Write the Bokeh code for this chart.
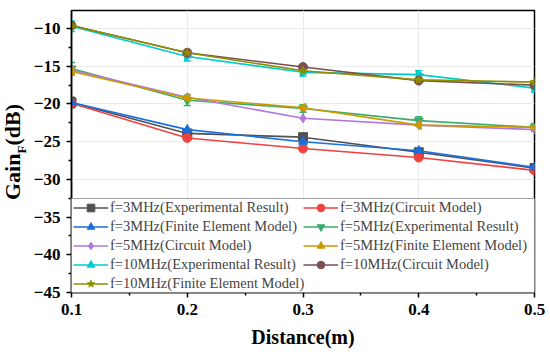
import math
from bokeh.plotting import figure
from bokeh.layouts import row
from bokeh.models import (Range1d, FixedTicker, Legend, LegendItem, Whisker, ColumnDataSource,
                          TeeHead, BoxAnnotation, Div)
from bokeh.embed import file_html
from bokeh.resources import INLINE

distance = [0.1, 0.2, 0.3, 0.4, 0.5]

f3_exp = [-19.8, -23.9, -24.4, -26.4, -28.5]
f3_exp_err = [0.7, 0.4, 0.5, 0.3, 0.5]
f3_cir = [-19.9, -24.5, -25.9, -27.1, -28.8]
f3_fem = [-19.8, -23.4, -25.0, -26.2, -28.4]

f5_exp = [-15.3, -19.5, -20.6, -22.2, -23.1]
f5_exp_err = [0.8, 0.7, 0.5, 0.5, 0.5]
f5_cir = [-15.5, -19.1, -21.9, -22.8, -23.4]
f5_fem = [-15.7, -19.2, -20.5, -22.8, -23.1]

f10_exp = [-9.7, -13.7, -15.8, -16.1, -17.9]
f10_exp_err = [0.7, 0.6, 0.5, 0.5, 0.5]
f10_cir = [-9.6, -13.2, -15.1, -16.9, -17.5]
f10_fem = [-9.6, -13.2, -15.6, -16.8, -17.1]

series = [
    ("f=3MHz(Experimental Result)", f3_exp, f3_exp_err, "#515151", "square", 0),
    ("f=3MHz(Circuit Model)", f3_cir, None, "#F14040", "circle", 0),
    ("f=3MHz(Finite Element Model)", f3_fem, None, "#1A6FDF", "triangle", 0),
    ("f=5MHz(Experimental Result)", f5_exp, f5_exp_err, "#37AD6B", "inverted_triangle", 0),
    ("f=5MHz(Circuit Model)", f5_cir, None, "#B177DE", "diamond", 0),
    ("f=5MHz(Finite Element Model)", f5_fem, None, "#CC9900", "triangle", math.pi / 2),
    ("f=10MHz(Experimental Result)", f10_exp, f10_exp_err, "#00CBCC", "triangle", -math.pi / 2),
    ("f=10MHz(Circuit Model)", f10_cir, None, "#7D4E4E", "circle", 0),
    ("f=10MHz(Finite Element Model)", f10_fem, None, "#8E8E00", "star", 0),
]

SERIF = "'Liberation Serif'"
Y_MIN, Y_MAX = -45, -7.6

p = figure(width=520, height=357, output_backend="svg", toolbar_location=None,
           x_range=Range1d(0.1, 0.5), y_range=Range1d(Y_MIN, Y_MAX),
           min_border_left=41, min_border_right=16, min_border_top=10, min_border_bottom=65,
           margin=(0, 0, 0, 0))

p.outline_line_color = "black"
p.outline_line_width = 1.5
p.background_fill_color = "white"

p.xaxis.ticker = FixedTicker(ticks=[0.1, 0.2, 0.3, 0.4, 0.5],
                             minor_ticks=[0.15, 0.25, 0.35, 0.45])
p.yaxis.ticker = FixedTicker(ticks=[-45, -40, -35, -30, -25, -20, -15, -10],
                             minor_ticks=[-42.5, -37.5, -32.5, -27.5, -22.5, -17.5, -12.5])
p.yaxis.major_label_overrides = {v: "\u2212" + str(-v) for v in [-45, -40, -35, -30, -25, -20, -15, -10]}
p.xaxis.major_label_overrides = {0.1: "0.1", 0.2: "0.2", 0.3: "0.3", 0.4: "0.4", 0.5: "0.5"}

for ax in (p.xaxis, p.yaxis):
    ax.axis_line_width = 1.5
    ax.axis_line_color = "black"
    ax.major_tick_in = 0
    ax.major_tick_out = 5
    ax.minor_tick_in = 0
    ax.minor_tick_out = 3
    ax.major_tick_line_width = 1.5
    ax.minor_tick_line_width = 1.5
    ax.major_label_text_font = SERIF
    ax.major_label_text_font_style = "bold"
    ax.major_label_text_font_size = "17px"
    ax.major_label_text_color = "black"
    ax.axis_label_text_font = SERIF
    ax.axis_label_text_font_style = "bold"
    ax.axis_label_text_font_size = "20px"
    ax.axis_label_text_color = "black"

p.xaxis.major_label_standoff = 6
p.yaxis.major_label_standoff = 6
p.xaxis.axis_label = "Distance(m)"
p.xaxis.axis_label_standoff = 8

p.grid.grid_line_color = "#ebebeb"
p.grid.grid_line_width = 1

items = []
for label, ys, err, color, marker, angle in series:
    src = ColumnDataSource(dict(x=distance, y=ys))
    line = p.line("x", "y", source=src, line_color=color, line_width=1.6)
    sc = p.scatter("x", "y", source=src, marker=marker, size=9, angle=angle,
                   fill_color=color, line_color=color)
    rends = [line, sc]
    if err is not None:
        esrc = ColumnDataSource(dict(x=distance,
                                     lo=[v - e for v, e in zip(ys, err)],
                                     hi=[v + e for v, e in zip(ys, err)]))
        w = Whisker(source=esrc, base="x", lower="lo", upper="hi",
                    line_color=color, line_width=1.5,
                    upper_head=TeeHead(size=7, line_color=color, line_width=1.5),
                    lower_head=TeeHead(size=7, line_color=color, line_width=1.5))
        p.add_layout(w)
    items.append(LegendItem(label=label, renderers=rends))

# legend panel background spanning the whole frame width
frame_h = 357 - 10 - 65
legend_top = Y_MIN + 94 * (Y_MAX - Y_MIN) / frame_h
p.add_layout(BoxAnnotation(left=0.09, right=0.51, bottom=Y_MIN - 1, top=legend_top,
                           fill_color="white", fill_alpha=1,
                           line_color="#a0a0a0", line_width=1, line_alpha=1))

leg_style = dict(label_text_font=SERIF, label_text_font_size="14.5px",
                 label_height=19, glyph_height=19, glyph_width=35,
                 label_standoff=2, spacing=0, padding=0, margin=0,
                 border_line_alpha=0, background_fill_alpha=0)
leg_a = Legend(items=[items[i] for i in (0, 2, 4, 6, 8)], location=(2, -1), **leg_style)
leg_b = Legend(items=[items[i] for i in (1, 3, 5, 7)], location=(232, 18), **leg_style)
p.add_layout(leg_a)
p.add_layout(leg_b)

ylabel = Div(
    width=30, height=357, margin=(0, 0, 0, 0),
    text=('<div style="position:relative;width:30px;height:304px;overflow:visible;">'
          '<div style="position:absolute;left:15px;top:152px;'
          'transform:translate(-50%,-50%) rotate(-90deg);white-space:nowrap;'
          "font-family:'Liberation Serif',serif;font-weight:bold;font-size:22px;"
          'line-height:1;color:black;">Gain<sub style="font-size:13px;">F</sub>(dB)</div></div>'))

layout = row(ylabel, p, spacing=0)

open("out.html", "w").write(file_html(layout, INLINE))
